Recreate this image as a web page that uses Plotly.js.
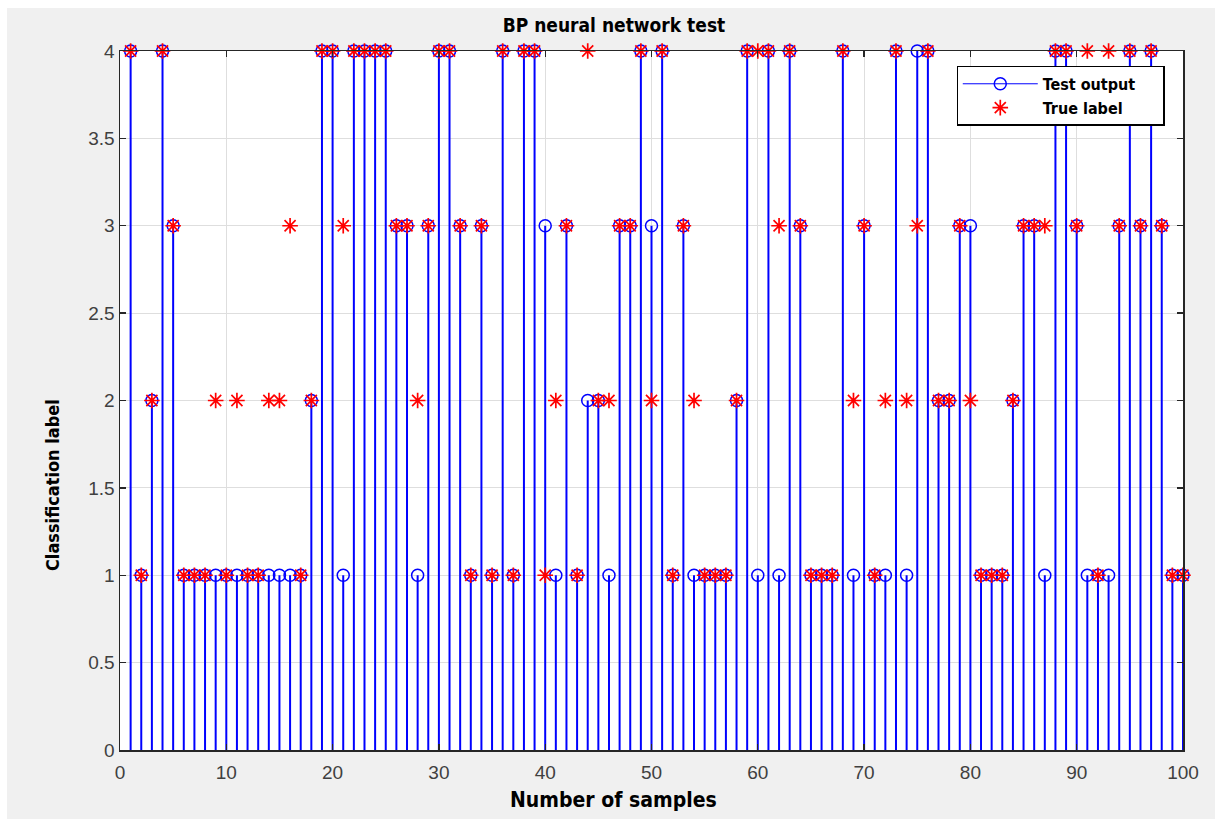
<!DOCTYPE html>
<html>
<head>
<meta charset="utf-8">
<script src="https://cdn.plot.ly/plotly-3.0.1.min.js"></script>
<style>
html,body{margin:0;padding:0;background:#ffffff;}
#chart{position:absolute;left:7px;top:8px;width:1208px;height:811px;}
</style>
</head>
<body>
<div id="chart"></div>
<script>
// sample indices 1..100
const samples = [1,2,3,4,5,6,7,8,9,10,11,12,13,14,15,16,17,18,19,20,
  21,22,23,24,25,26,27,28,29,30,31,32,33,34,35,36,37,38,39,40,
  41,42,43,44,45,46,47,48,49,50,51,52,53,54,55,56,57,58,59,60,
  61,62,63,64,65,66,67,68,69,70,71,72,73,74,75,76,77,78,79,80,
  81,82,83,84,85,86,87,88,89,90,91,92,93,94,95,96,97,98,99,100];
// network output (blue stems)
const testOutput = [4,1,2,4,3,1,1,1,1,1, 1,1,1,1,1,1,1,2,4,4,
  1,4,4,4,4,3,3,1,3,4, 4,3,1,3,1,4,1,4,4,3,
  1,3,1,2,2,1,3,3,4,3, 4,1,3,1,1,1,1,2,4,1,
  4,1,4,3,1,1,1,4,1,3, 1,1,4,1,4,4,2,2,3,3,
  1,1,1,2,3,3,1,4,4,3, 1,1,1,3,4,3,4,3,1,1];
// true labels (red asterisks)
const trueLabel = [4,1,2,4,3,1,1,1,2,1, 2,1,1,2,2,3,1,2,4,4,
  3,4,4,4,4,3,3,2,3,4, 4,3,1,3,1,4,1,4,4,1,
  2,3,1,4,2,2,3,3,4,2, 4,1,3,2,1,1,1,2,4,4,
  4,3,4,3,1,1,1,4,2,3, 1,2,4,2,3,4,2,2,3,2,
  1,1,1,2,3,3,3,4,4,3, 4,1,4,3,4,3,4,3,1,1];
const xTicks = [0,10,20,30,40,50,60,70,80,90,100];
const yTicks = [0,0.5,1,1.5,2,2.5,3,3.5,4];

// build stem polylines from data
const stemX = [], stemY = [];
samples.forEach((s, i) => {
  stemX.push(s, s, null);
  stemY.push(0, testOutput[i], null);
});

const boldFont = '"Liberation Sans Narrow", "DejaVu Sans Condensed", "Arial Narrow", sans-serif';
const tickFont = '"Liberation Sans", Arial, sans-serif';
const blue = '#0000ff', red = '#ff0000';
const pad = '&nbsp;&nbsp;&nbsp;&nbsp;&nbsp;';

const traces = [
  { // stems
    x: stemX, y: stemY, type: 'scatter', mode: 'lines',
    line: {color: blue, width: 2}, showlegend: false, cliponaxis: false, hoverinfo: 'skip'
  },
  { // stem heads
    x: samples, y: testOutput, type: 'scatter', mode: 'markers', showlegend: false,
    marker: {symbol: 'circle-open', size: 12, color: blue, line: {width: 1.5, color: blue}},
    cliponaxis: false
  },
  { // legend entry for stems
    x: [null], y: [null], type: 'scatter', mode: 'lines+markers', name: '<b>Test output</b>' + pad,
    line: {color: blue, width: 1},
    marker: {symbol: 'circle-open', size: 12, color: blue, line: {width: 1.5, color: blue}}
  },
  {
    x: samples, y: trueLabel, type: 'scatter', mode: 'markers',
    name: '<b>True label</b>',
    marker: {symbol: 'asterisk-open', size: 13, color: red, line: {width: 1.7, color: red}},
    cliponaxis: false
  }
];

const layout = {
  width: 1208, height: 811,
  paper_bgcolor: '#f0f0f0', plot_bgcolor: '#ffffff',
  margin: {l: 113, r: 32, t: 43, b: 69, pad: 0},
  title: {text: '<b>BP neural network test</b>', font: {family: boldFont, size: 19, color: '#000000'},
          xref: 'paper', x: 0.4647, xanchor: 'center', yref: 'container', y: 0.979, yanchor: 'middle'},
  showlegend: true,
  legend: {
    x: 0.787, y: 0.979, xanchor: 'left', yanchor: 'top',
    bgcolor: '#ffffff', bordercolor: '#000000', borderwidth: 1.2,
    font: {family: boldFont, size: 16, color: '#000000'},
    itemwidth: 75, tracegroupgap: 0
  },
  annotations: [
    {text: '<b>Number of samples</b>', xref: 'paper', yref: 'paper', x: 0.4647, y: -0.0715,
     xanchor: 'center', yanchor: 'middle', showarrow: false,
     font: {family: boldFont, size: 21, color: '#000000'}},
    {text: '<b>Classification label</b>', xref: 'paper', yref: 'paper', x: -0.064, y: 0.379,
     xanchor: 'center', yanchor: 'middle', showarrow: false, textangle: -90,
     font: {family: boldFont, size: 18, color: '#000000'}}
  ],
  xaxis: {
    range: [0, 100], tickvals: xTicks, ticktext: xTicks.map(String),
    showgrid: true, gridcolor: '#dedede', gridwidth: 1,
    zeroline: false, showline: true, linecolor: '#262626', linewidth: 1.5, mirror: 'allticks',
    ticks: 'inside', ticklen: 6, tickcolor: '#262626', tickwidth: 1.3, ticklabelstandoff: 5,
    tickfont: {family: tickFont, size: 19, color: '#404040'}
  },
  yaxis: {
    range: [0, 4], tickvals: yTicks, ticktext: yTicks.map(String),
    showgrid: true, gridcolor: '#dedede', gridwidth: 1,
    zeroline: false, showline: true, linecolor: '#262626', linewidth: 1.5, mirror: 'allticks',
    ticks: 'inside', ticklen: 6, tickcolor: '#262626', tickwidth: 1.3,
    tickfont: {family: tickFont, size: 19, color: '#404040'}
  }
};

Plotly.newPlot('chart', traces, layout, {displayModeBar: false, staticPlot: true});
</script>
</body>
</html>
